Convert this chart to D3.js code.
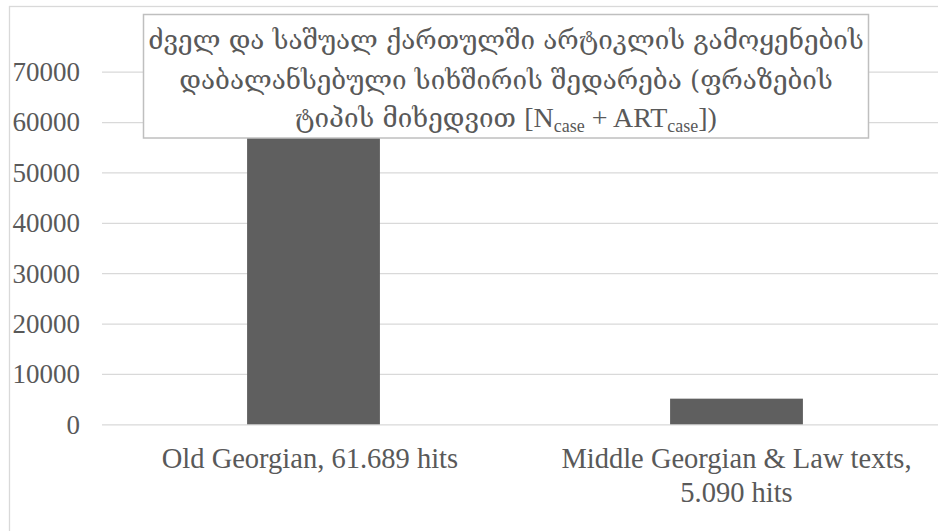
<!DOCTYPE html>
<html>
<head>
<meta charset="utf-8">
<script src="https://cdn.jsdelivr.net/npm/d3@7"></script>
<style>
  html, body { margin: 0; padding: 0; background: #ffffff; }
  svg { display: block; }
</style>
</head>
<body>
<svg id="chart" width="938" height="531"></svg>
<script>
// ---- data ----
const categories = ["Old Georgian, 61.689 hits ", "Middle Georgian & Law texts,\n5.090 hits"];
const values = [61689, 5090];
const yTicks = [0, 10000, 20000, 30000, 40000, 50000, 60000, 70000];
const titleLines = [
  [{t: "ძველ და საშუალ ქართულში არტიკლის გამოყენების"}],
  [{t: "დაბალანსებული სიხშირის შედარება (ფრაზების"}],
  [{t: "ტიპის მიხედვით "}, {t: "[N", latin: true}, {t: "case", sub: true}, {t: " + ART", latin: true}, {t: "case", sub: true}, {t: "])", latin: true}]
];

// ---- layout ----
const svg = d3.select("#chart");
const plot = {left: 102, right: 948, top: 71.7, bottom: 424.3};
const textColor = "#595959";
const gridColor = "#d9d9d9";
const barColor = "#5f5f5f";
const serif = "'Liberation Serif', 'Times New Roman', serif";
const geoFont = "'DejaVu Serif', 'Liberation Serif', serif";

// outer chart border (extends past the visible window)
svg.append("rect")
  .attr("x", 9.5).attr("y", 6.5)
  .attr("width", 1000).attr("height", 600)
  .attr("fill", "#fff").attr("stroke", gridColor).attr("stroke-width", 1.3);

const x = d3.scaleBand()
  .domain(categories)
  .range([plot.left, plot.right])
  .paddingInner(0.686)
  .paddingOuter(0.343);

const y = d3.scaleLinear()
  .domain([0, 70000])
  .range([plot.bottom, plot.top]);

// gridlines via axis
const yGrid = d3.axisLeft(y).tickValues(yTicks)
  .tickSize(-(plot.right - plot.left)).tickFormat("");
const gGrid = svg.append("g").attr("transform", `translate(${plot.left},0)`).call(yGrid);
gGrid.select(".domain").remove();
gGrid.selectAll(".tick line").attr("stroke", gridColor).attr("stroke-width", 1.3);

// y tick labels
const yAxis = d3.axisLeft(y).tickValues(yTicks).tickSize(0).tickPadding(0).tickFormat(d3.format("d"));
const gY = svg.append("g").attr("transform", `translate(80,0)`).call(yAxis);
gY.select(".domain").remove();
gY.selectAll(".tick text")
  .attr("fill", textColor)
  .attr("font-family", serif)
  .attr("font-size", 27)
  .attr("dy", "0.33em");

// bars
svg.append("g").selectAll("rect")
  .data(values)
  .join("rect")
  .attr("x", (d, i) => x(categories[i]))
  .attr("y", d => y(d))
  .attr("width", x.bandwidth())
  .attr("height", d => y(0) - y(d))
  .attr("fill", barColor);

// x labels
const xl = svg.append("g");
categories.forEach(c => {
  const lines = c.split("\n");
  const cx = x(c) + x.bandwidth() / 2;
  const t = xl.append("text")
    .attr("x", cx)
    .attr("y", 468)
    .attr("text-anchor", "middle")
    .attr("fill", textColor)
    .attr("font-family", serif)
    .attr("font-size", 28.5)
    .style("white-space", "pre");
  lines.forEach((ln, k) => {
    t.append("tspan")
      .attr("x", cx)
      .attr("dy", k === 0 ? 0 : 34)
      .text(ln);
  });
});

// title box
const tb = {x: 143.5, y: 14.5, w: 725, h: 123.5};
svg.append("rect")
  .attr("x", tb.x).attr("y", tb.y).attr("width", tb.w).attr("height", tb.h)
  .attr("fill", "#fff").attr("stroke", "#bfbfbf").attr("stroke-width", 1.5);

const tcx = tb.x + tb.w / 2;
const baselines = [49, 88.5, 127];
titleLines.forEach((parts, i) => {
  const t = svg.append("text")
    .attr("x", tcx).attr("y", baselines[i])
    .attr("text-anchor", "middle")
    .attr("fill", textColor)
    .attr("font-size", 26)
    .attr("font-family", geoFont)
    .style("white-space", "pre");
  parts.forEach(p => {
    const ts = t.append("tspan").text(p.t);
    if (p.sub) {
      ts.attr("font-size", 18).attr("baseline-shift", "-28%").attr("font-family", serif);
    } else if (p.latin) {
      ts.attr("font-family", serif).attr("font-size", 28);
    }
  });
});
</script>
</body>
</html>
